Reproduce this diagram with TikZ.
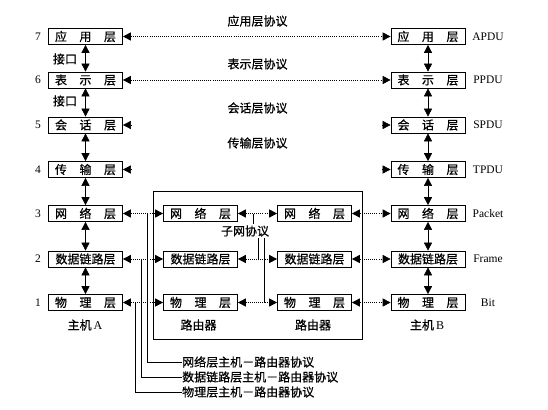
\documentclass[tikz,border=0pt]{standalone}
\usepackage{fontspec}
\setmainfont{Liberation Serif}
\newfontfamily\cjk[FakeBold=0.6]{Noto Sans CJK SC}
\usetikzlibrary{arrows.meta}
\newcommand\spreadthree[3]{\makebox[61pt][s]{#1\hfill#2\hfill#3}}
\begin{document}
\begin{tikzpicture}[x=1pt,y=-1pt,
  layerbox/.style={draw, line width=0.7pt, minimum width=74pt, minimum height=16pt, inner sep=0pt, font=\cjk\fontsize{12}{12}\selectfont},
  tri/.tip={Triangle[length=8pt,width=8pt]},
  both/.style={line width=0.6pt, tri-tri},
  dotboth/.style={line width=0.7pt, tri-tri, dash pattern=on 0.8pt off 1.3pt},
  onetip/.style={line width=0.6pt, -tri},
  cn/.style={font=\cjk\fontsize{12}{12}\selectfont, inner sep=0pt},
  lat/.style={font=\fontsize{11.5}{12}\selectfont, inner sep=0pt},
  thin/.style={line width=0.6pt}
]
\useasboundingbox (0,0) rectangle (548,409);

% left host
\node[layerbox] (L7) at (85.5,36.5) {\spreadthree{应}{用}{层}};
\node[layerbox] (L6) at (85.5,80) {\spreadthree{表}{示}{层}};
\node[layerbox] (L5) at (85.5,125) {\spreadthree{会}{话}{层}};
\node[layerbox] (L4) at (85.5,169.5) {\spreadthree{传}{输}{层}};
\node[layerbox] (L3) at (85.5,213.5) {\spreadthree{网}{络}{层}};
\node[layerbox] (L2) at (85.5,259) {数据链路层};
\node[layerbox] (L1) at (85.5,302.5) {\spreadthree{物}{理}{层}};

% right host
\node[layerbox] (R7) at (428,36.5) {\spreadthree{应}{用}{层}};
\node[layerbox] (R6) at (428,80) {\spreadthree{表}{示}{层}};
\node[layerbox] (R5) at (428,125) {\spreadthree{会}{话}{层}};
\node[layerbox] (R4) at (428,169.5) {\spreadthree{传}{输}{层}};
\node[layerbox] (R3) at (428,213.5) {\spreadthree{网}{络}{层}};
\node[layerbox] (R2) at (428,259) {数据链路层};
\node[layerbox] (R1) at (428,302.5) {\spreadthree{物}{理}{层}};

% routers
\node[layerbox] (A3) at (200.5,213.5) {\spreadthree{网}{络}{层}};
\node[layerbox] (A2) at (200.5,259) {数据链路层};
\node[layerbox] (A1) at (200.5,302.5) {\spreadthree{物}{理}{层}};
\node[layerbox] (B3) at (314.5,213.5) {\spreadthree{网}{络}{层}};
\node[layerbox] (B2) at (314.5,259) {数据链路层};
\node[layerbox] (B1) at (314.5,302.5) {\spreadthree{物}{理}{层}};

% enclosure
\draw[thin] (153,191) rectangle (362,339);

% numbers
\foreach \n/\y in {7/36.5,6/80,5/125,4/169.5,3/213.5,2/259,1/302.5}
  \node[lat] (num\n) at (38,\y) {\n};

% right labels
\node[lat] (pA) at (488,36.5) {APDU};
\node[lat] (pP) at (488,80) {PPDU};
\node[lat] (pS) at (488,125) {SPDU};
\node[lat] (pT) at (488,169.5) {TPDU};
\node[lat] (pK) at (488,213.5) {Packet};
\node[lat] (pF) at (488,259) {Frame};
\node[lat] (pB) at (488,302.5) {Bit};

% protocol labels
\node[cn] (p7) at (257.5,21) {应用层协议};
\node[cn] (p6) at (257.5,64) {表示层协议};
\node[cn] (p5) at (257.5,108) {会话层协议};
\node[cn] (p4) at (257.5,143) {传输层协议};

\node[cn] (if1) at (65,59) {接口};
\node[cn] (if2) at (65,101) {接口};

\node[cn] (hA) at (85,325) {主机\,\fontspec{Liberation Serif}A};
\node[cn] (hB) at (427,325) {主机\,\fontspec{Liberation Serif}B};
\node[cn] (rA) at (198.5,325) {路由器};
\node[cn] (rB) at (313,325) {路由器};

% vertical arrows
\foreach \a/\b in {7/6,6/5,5/4,4/3,3/2,2/1}{
  \draw[both] (L\a.south) -- (L\b.north);
  \draw[both] (R\a.south) -- (R\b.north);
}

% peer protocols
\draw[dotboth] (L7.east) -- (R7.west);
\draw[dotboth] (L6.east) -- (R6.west);
\path (L5.east) ++(9,0) coordinate (l5);
\path (L4.east) ++(9,0) coordinate (l4);
\path (R5.west) ++(-9,0) coordinate (r5);
\path (R4.west) ++(-9,0) coordinate (r4);
\draw[onetip] (l5) -- (L5.east);
\draw[onetip] (l4) -- (L4.east);
\draw[onetip] (r5) -- (R5.west);
\draw[onetip] (r4) -- (R4.west);

\foreach \r in {3,2,1}{
  \draw[dotboth] (L\r.east) -- (A\r.west);
  \draw[dotboth] (A\r.east) -- (B\r.west);
  \draw[dotboth] (B\r.east) -- (R\r.west);
}

% subnet protocol
\node[cn] (sub) at (245,231) {子网协议};
\draw[thin] (253,213.5) -- (253,224);
\draw[thin] (258,238) -- (258,259);
\draw[thin] (264,238) -- (264,302.5);

% host-router protocols
\node[cn, anchor=west] (hr3) at (182,362) {网络层主机－路由器协议};
\node[cn, anchor=west] (hr2) at (182,377) {数据链路层主机－路由器协议};
\node[cn, anchor=west] (hr1) at (182,392) {物理层主机－路由器协议};
\draw[thin] (hr3.west) -| (147,213.5);
\draw[thin] (hr2.west) -| (141,259);
\draw[thin] (hr1.west) -| (135,302.5);
\end{tikzpicture}
\end{document}
